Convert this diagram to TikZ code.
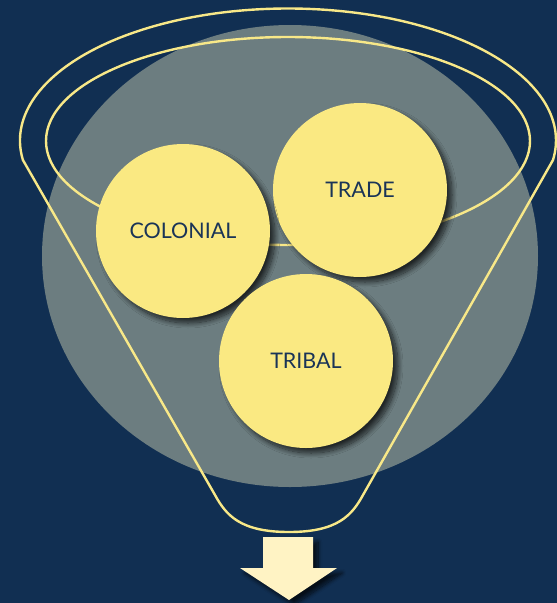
\documentclass[tikz,border=0pt]{standalone}
\usepackage{fontspec}
\setmainfont{Lato}
\usetikzlibrary{shadows.blur}
\definecolor{navy}{HTML}{112F52}
\definecolor{greyel}{HTML}{6C7D80}
\definecolor{ball}{HTML}{FAE982}
\definecolor{funnelline}{HTML}{F8E888}
\definecolor{arrowfill}{HTML}{FFF3C4}
\definecolor{txt}{HTML}{1A3457}
\tikzset{
  ballnode/.style={circle, fill=ball, minimum size=174pt, inner sep=0pt,
    text=txt, font=\fontsize{21.5}{24}\selectfont,
    blur shadow={shadow xshift=5pt, shadow yshift=-5pt, shadow blur steps=12, shadow opacity=70, shadow blur radius=5pt}},
  funnel/.style={draw=funnelline, line width=2.4pt, line join=round}
}
\begin{document}
\begin{tikzpicture}[x=1pt,y=-1pt]
\useasboundingbox (0,0) rectangle (557,603);
\fill[navy] (0,0) rectangle (557,603);
% grey ellipse
\fill[greyel] (290,256) ellipse [x radius=248, y radius=231];
% inner ellipse
\draw[funnel] (288,141) ellipse [x radius=242, y radius=104];
% funnel outline
\draw[funnel] (553,160) arc[start angle=8.5, end angle=-188.5, x radius=268, y radius=132]
  -- (215,495) .. controls (226,515) and (240,532) .. (289,532)
  .. controls (338,532) and (352,515) .. (363,495) -- cycle;
% balls
\node[ballnode] (trade) at (360,190) {TRADE};
\node[ballnode] (colonial) at (183,231) {COLONIAL};
\node[ballnode] (tribal) at (306,361) {TRIBAL};
% arrow
\fill[arrowfill, blur shadow={shadow xshift=5pt, shadow yshift=-5pt, shadow blur steps=10, shadow opacity=70, shadow blur radius=4pt}]
  (263,537) -- (313,537) -- (313,568) -- (337,568) -- (289,600) -- (240,568) -- (263,568) -- cycle;
\end{tikzpicture}
\end{document}
